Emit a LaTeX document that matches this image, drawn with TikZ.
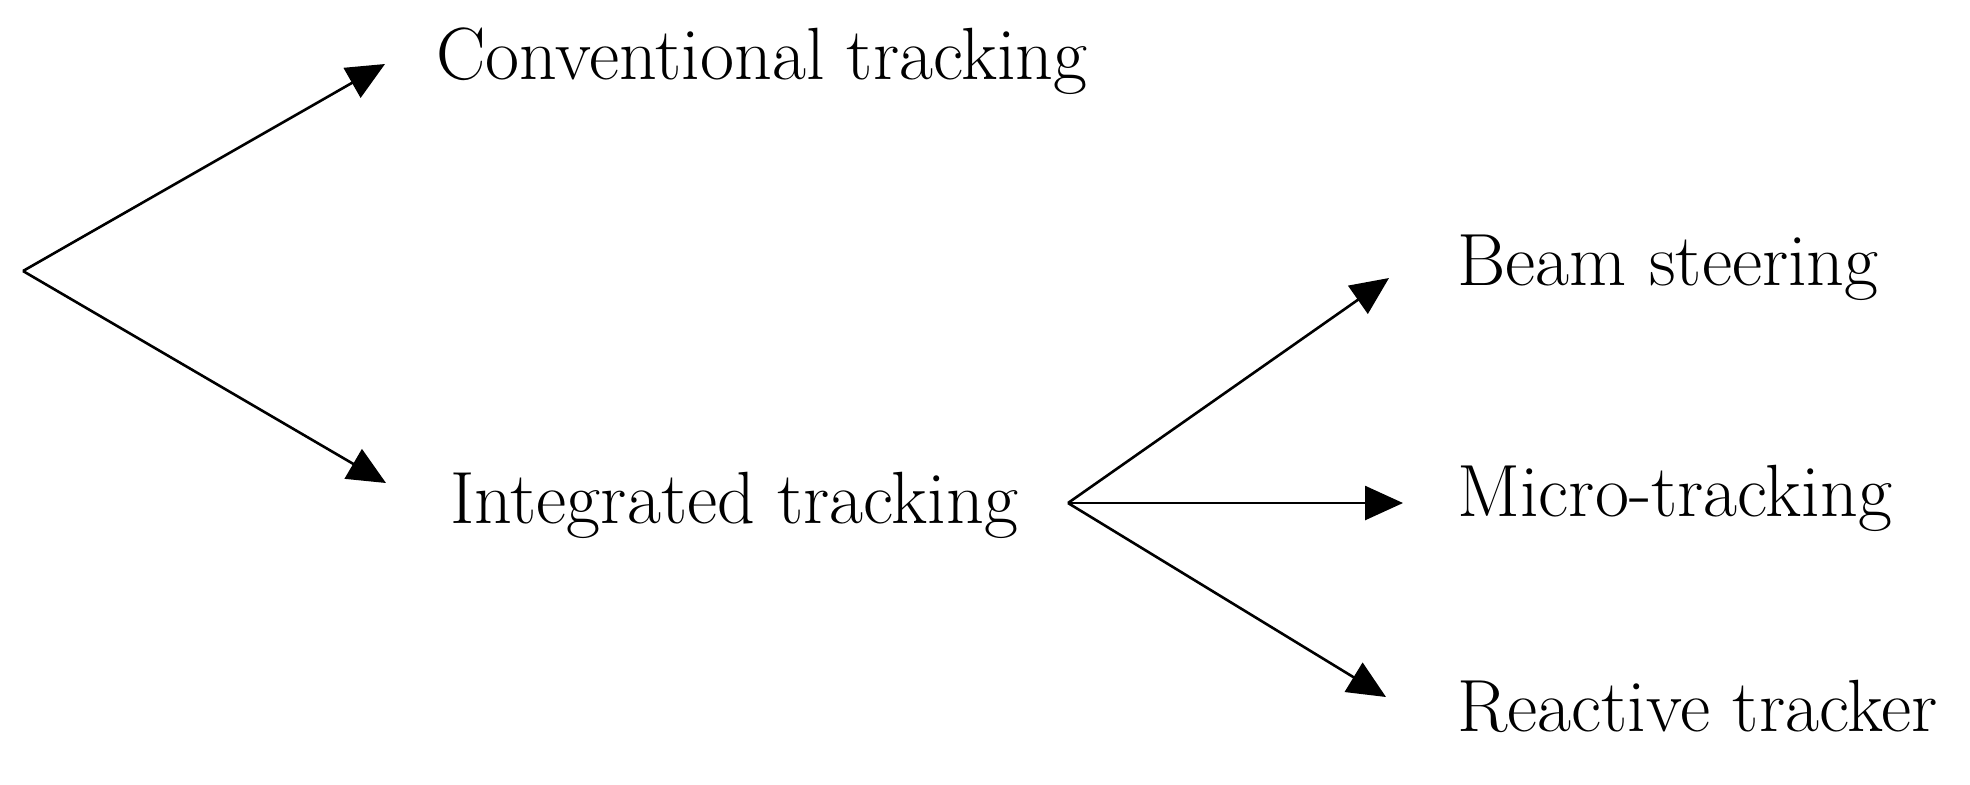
\documentclass[tikz,border=0pt]{standalone}
\usepackage{fontspec}
\usetikzlibrary{arrows.meta}
\begin{document}
\begin{tikzpicture}[x=0.5pt,y=-0.5pt,
  lbl/.style={anchor=base west,inner sep=0pt,font=\fontsize{37}{44}\selectfont},
  conn/.style={line width=1.3pt,-{Triangle[length=19pt,width=17pt]}}]
\useasboundingbox (0,0) rectangle (1970,784);
% text nodes
\node[lbl] (conv) at (436,79) {Conventional tracking};
\node[lbl] (integ) at (450,523) {Integrated tracking};
\node[lbl] (beam) at (1457,285) {Beam steering};
\node[lbl] (micro) at (1457,516) {Micro-tracking};
\node[lbl] (react) at (1457,731) {Reactive tracker};
% branch points and arrow ends
\coordinate (root) at (23,271);
\coordinate (branch) at (1068,503);
\coordinate (tconv) at (385,64);
\coordinate (tinteg) at (386,483);
\coordinate (tbeam) at (1389,278);
\coordinate (tmicro) at (1403,503);
\coordinate (treact) at (1386,697);
% connectors
\draw[conn] (root) -- (tconv);
\draw[conn] (root) -- (tinteg);
\draw[conn] (branch) -- (tbeam);
\draw[conn] (branch) -- (tmicro);
\draw[conn] (branch) -- (treact);
\end{tikzpicture}
\end{document}
